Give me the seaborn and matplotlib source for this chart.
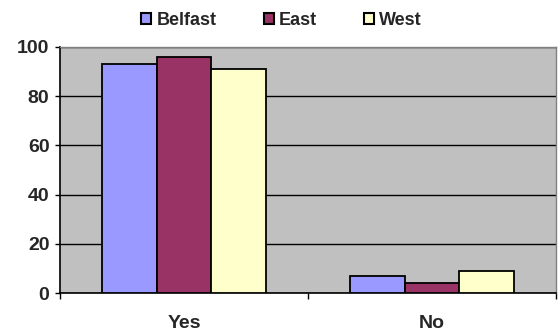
import matplotlib
matplotlib.use("Agg")
import matplotlib.pyplot as plt
import seaborn as sns
import pandas as pd
from matplotlib.ticker import FixedLocator

categories = ["Yes", "No"]
regions = ["Belfast", "East", "West"]
belfast = [93, 7]
east = [96, 4]
west = [91, 9]
colors = ["#9999FF", "#993366", "#FFFFCC"]

rows = []
for reg, vals in zip(regions, [belfast, east, west]):
    for cat, v in zip(categories, vals):
        rows.append({"answer": cat, "region": reg, "value": v})
df = pd.DataFrame(rows)

sns.set_style("white")
plt.rcParams["font.family"] = ["Liberation Sans", "DejaVu Sans"]
plt.rcParams["font.weight"] = "bold"

fig = plt.figure(figsize=(5.58, 3.33), dpi=100)
ax = fig.add_axes([0.1075, 0.12, 0.889, 0.739])
ax.set_facecolor("#C0C0C0")

sns.barplot(data=df, x="answer", y="value", hue="region", order=categories,
            hue_order=regions, palette=colors, saturation=1, width=0.66,
            edgecolor="black", linewidth=1.3, ax=ax, zorder=3, legend=True)

ax.set_ylim(0, 100)
ax.set_xlim(-0.5, 1.5)
ax.set_yticks([0, 20, 40, 60, 80, 100])
ax.yaxis.grid(True, color="black", linewidth=1, zorder=1)
ax.set_axisbelow(True)
ax.set_xlabel("")
ax.set_ylabel("")

ax.tick_params(axis="y", which="major", direction="out", length=3.6, width=1,
               color="black", labelsize=14, pad=4, left=True)
ax.tick_params(axis="x", which="major", length=0, labelsize=14, pad=16)
ax.xaxis.set_minor_locator(FixedLocator([-0.5, 0.5, 1.5]))
ax.tick_params(axis="x", which="minor", direction="out", length=4, width=1,
               color="black", bottom=True)
for lab in ax.get_xticklabels() + ax.get_yticklabels():
    lab.set_fontweight("bold")

for side in ["left", "bottom"]:
    ax.spines[side].set_color("black")
    ax.spines[side].set_linewidth(1.2)
for side in ["top", "right"]:
    ax.spines[side].set_color("#808080")
    ax.spines[side].set_linewidth(1)

leg = ax.legend(loc="center", bbox_to_anchor=(0.447, 1.108), ncol=3, frameon=False,
                fontsize=13, handlelength=0.55, handleheight=0.55, handletextpad=0.3,
                columnspacing=2.6, borderaxespad=0)
for t in leg.get_texts():
    t.set_fontweight("bold")
for h in leg.legend_handles:
    h.set_edgecolor("black")
    h.set_linewidth(1.5)

fig.savefig("out.png", dpi=100)
